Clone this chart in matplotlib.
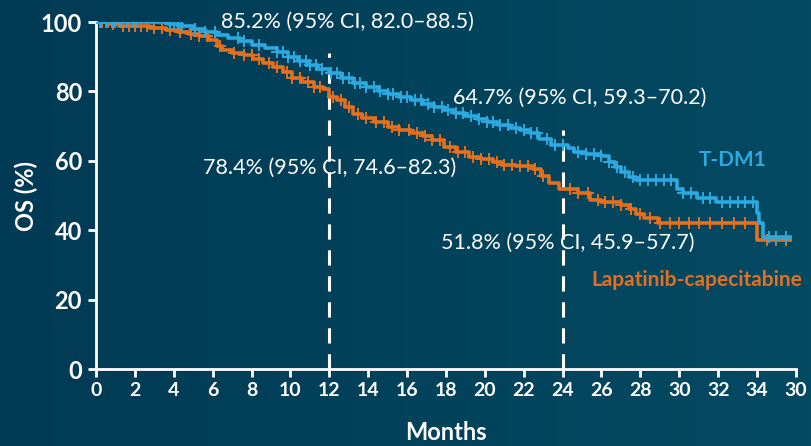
import numpy as np
import matplotlib.pyplot as plt

plt.rcParams['font.family'] = ['Lato', 'DejaVu Sans']

# Kaplan-Meier step points (months, OS %)
tdm1_t = [0, 3.7, 4.3, 5.0, 5.6, 6.2, 6.8, 7.4, 8.0, 8.7, 9.3, 9.9, 10.4, 10.9, 11.4,
          12.0, 12.6, 13.2, 13.9, 14.5, 15.0, 15.6, 16.2, 16.8, 17.4, 17.9, 18.4, 19.0,
          19.6, 20.1, 20.7, 21.3, 21.8, 22.3, 22.8, 23.4, 24.3, 24.6, 25.2, 26.0, 26.4,
          26.7, 27.0, 27.4, 27.8, 29.9, 30.2, 30.9, 31.9, 34.0, 34.1, 34.3, 35.7]
tdm1_s = [100, 99.5, 98.8, 98.0, 97.2, 96.3, 95.4, 94.4, 93.4, 92.5, 91.4, 90.0, 88.8, 87.6, 86.4,
          85.2, 83.8, 82.4, 81.2, 80.2, 79.3, 78.3, 77.4, 76.5, 75.6, 74.6, 73.7, 72.8,
          72.0, 71.2, 70.4, 69.6, 68.9, 68.0, 66.2, 64.7, 63.8, 62.5, 62.0, 61.3, 59.8,
          58.3, 56.8, 55.3, 54.5, 52.0, 50.8, 49.3, 48.0, 45.0, 42.0, 38.0, 38.0]

lap_t = [0, 0.7, 1.2, 2.8, 3.6, 4.2, 4.8, 5.3, 5.8, 6.2, 6.5, 7.0, 7.6, 8.1, 8.6, 9.1, 9.6,
         10.1, 10.6, 11.2, 11.7, 12.0, 12.4, 12.8, 13.2, 13.7, 14.3, 15.0, 15.6, 16.2, 16.8,
         17.3, 17.9, 18.5, 19.2, 19.8, 20.4, 20.9, 21.6, 22.5, 22.9, 23.3, 23.8, 24.8, 25.4,
         26.0, 27.0, 27.4, 27.8, 28.2, 28.9, 34.0, 35.7]
lap_s = [100, 99.4, 99.0, 98.4, 97.6, 97.0, 96.6, 96.0, 94.8, 93.2, 92.0, 91.2, 90.5, 89.4, 88.2,
         87.0, 85.6, 84.0, 82.6, 81.2, 80.6, 78.4, 77.4, 75.4, 73.6, 72.4, 71.2, 69.8, 68.8,
         68.0, 67.2, 66.0, 64.0, 62.6, 61.2, 60.4, 59.6, 58.8, 58.4, 57.6, 55.5, 53.5, 51.8,
         50.6, 48.8, 48.0, 47.3, 46.0, 44.6, 43.4, 42.2, 37.2, 37.2]

# censoring times
tdm1_cens = [0.2, 0.5, 0.8, 1.0, 1.3, 1.6, 1.9, 2.1, 3.8, 4.0, 4.2, 4.4, 5.1, 5.6, 6.1, 7.3,
             7.6, 8.4, 9.3, 9.6, 9.9, 10.2, 10.5, 10.8, 11.0, 11.3, 11.6, 12.1, 12.4, 12.7,
             13.0, 13.3, 13.6, 13.9, 14.3, 14.6, 15.0, 15.3, 15.7, 16.0, 16.4, 16.7, 17.1,
             17.4, 17.8, 18.1, 18.5, 18.9, 19.3, 19.7, 20.1, 20.4, 20.8, 21.2, 21.6, 22.0,
             22.4, 22.7, 23.2, 23.6, 24.0, 24.8, 25.2, 25.6, 26.0, 26.4, 26.8, 27.2, 27.6,
             28.0, 28.4, 28.8, 29.2, 29.6, 30.2, 30.6, 31.2, 31.6, 32.2, 32.6, 33.0, 33.4,
             33.8, 34.6, 35.0, 35.5]
lap_cens = [0.3, 0.6, 0.9, 1.4, 1.7, 2.0, 2.3, 2.6, 3.0, 3.4, 3.8, 4.3, 4.9, 5.3, 5.7, 6.4,
            7.1, 7.6, 8.0, 8.4, 8.9, 9.3, 9.8, 10.1, 10.5, 10.9, 11.2, 11.5, 12.2, 12.6,
            13.0, 13.5, 13.9, 14.4, 14.8, 15.2, 15.6, 16.1, 16.5, 16.9, 17.3, 17.7, 18.2,
            18.6, 19.0, 19.4, 19.8, 20.2, 20.6, 21.0, 21.4, 21.8, 22.2, 22.6, 23.0, 24.4,
            24.8, 25.3, 25.8, 26.2, 26.6, 27.0, 27.5, 28.0, 28.5, 29.0, 29.5, 30.0, 30.5,
            31.0, 31.6, 32.2, 32.8, 33.4, 34.5, 35.0, 35.5]

xticks = list(range(0, 37, 2))
xticklabels = [str(v) for v in range(0, 36, 2)] + ['30']
yticks = [0, 20, 40, 60, 80, 100]

landmarks = [12, 24]
landmark_top = [91, 69]

blue = '#2BA9E1'
orange = '#E4701F'


def step_value(times, surv, t):
    idx = np.searchsorted(times, t, side='right') - 1
    return np.array(surv)[idx]


fig = plt.figure(figsize=(8.12, 4.46), dpi=100)
bg = fig.add_axes([0, 0, 1, 1])
grad = np.linspace(0, 1, 256)[None, :]
bg.imshow(grad, aspect='auto', cmap=plt.matplotlib.colors.LinearSegmentedColormap.from_list(
    'bg', ['#013a54', '#044a62']), extent=[0, 1, 0, 1])
bg.axis('off')

ax = fig.add_axes([0.1182, 0.1726, 0.862, 0.778])
ax.patch.set_alpha(0)

for x, top in zip(landmarks, landmark_top):
    ax.plot([x, x], [0, top], color='white', lw=2.2, ls=(0, (5, 3.5)), zorder=2)

ax.plot(lap_t, lap_s, drawstyle='steps-post', color=orange, lw=2.6, zorder=3)
ax.plot(lap_cens, step_value(lap_t, lap_s, lap_cens), ls='none', marker='+',
        ms=8, mew=1.4, color=orange, zorder=3)
ax.plot(tdm1_t, tdm1_s, drawstyle='steps-post', color=blue, lw=2.6, zorder=4)
ax.plot(tdm1_cens, step_value(tdm1_t, tdm1_s, tdm1_cens), ls='none', marker='+',
        ms=8, mew=1.4, color=blue, zorder=4)

ax.set_xlim(0, 36)
ax.set_ylim(0, 100)
ax.set_xticks(xticks)
ax.set_xticklabels(xticklabels)
ax.set_yticks(yticks)

for side in ['top', 'right']:
    ax.spines[side].set_visible(False)
for side in ['left', 'bottom']:
    ax.spines[side].set_color('white')
    ax.spines[side].set_linewidth(2)
    ax.spines[side].set_clip_on(False)
ax.tick_params(colors='white', width=2, length=6, direction='out')
ax.tick_params(axis='x', labelsize=14, pad=3)
ax.tick_params(axis='y', labelsize=17, pad=4)
for lab in ax.get_xticklabels() + ax.get_yticklabels():
    lab.set_fontweight('bold')

ax.set_xlabel('Months', color='white', fontsize=17, fontweight='bold', labelpad=16)
ax.set_ylabel('OS (%)', color='white', fontsize=17, fontweight='bold', labelpad=2)

note = dict(color='white', fontsize=15.5, va='center', ha='left', clip_on=False)
ax.text(6.43, 100, '85.2% (95% CI, 82.0–88.5)', **note)
ax.text(18.36, 78.1, '64.7% (95% CI, 59.3–70.2)', **note)
ax.text(5.5, 57.9, '78.4% (95% CI, 74.6–82.3)', **note)
ax.text(17.75, 36.3, '51.8% (95% CI, 45.9–57.7)', **note)

ax.text(31.0, 60.2, 'T-DM1', color=blue, fontsize=15, fontweight='bold', va='center')
ax.text(25.5, 25.6, 'Lapatinib-capecitabine', color=orange, fontsize=15,
        fontweight='bold', va='center', clip_on=False)

fig.savefig('out.png', dpi=100)
